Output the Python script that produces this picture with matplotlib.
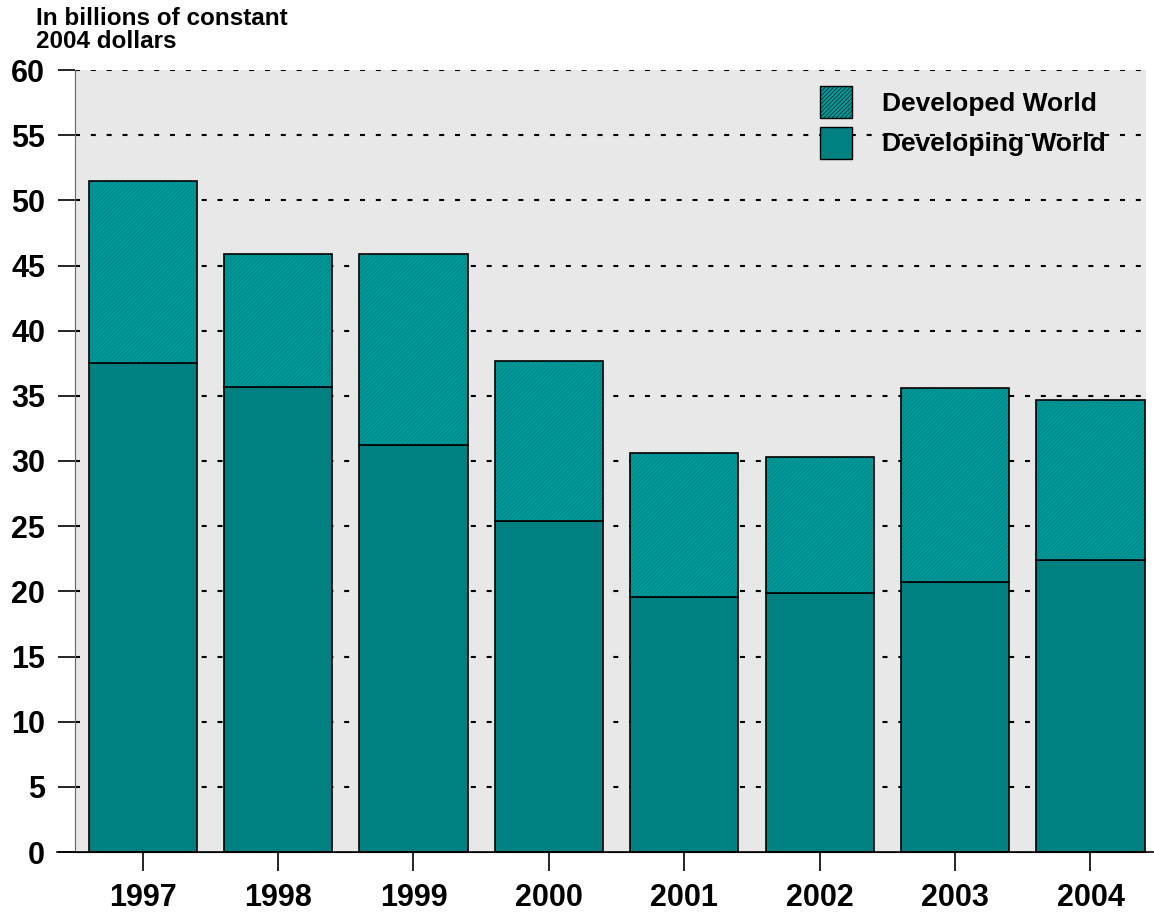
import numpy as np
import matplotlib
matplotlib.use('Agg')
import matplotlib.pyplot as plt
from matplotlib.patches import Patch

# values (billions of constant 2004 dollars)
years = ['1997', '1998', '1999', '2000', '2001', '2002', '2003', '2004']
developing = [37.5, 35.7, 31.2, 25.4, 19.6, 19.85, 20.7, 22.4]
total = [51.5, 45.9, 45.9, 37.7, 30.6, 30.3, 35.6, 34.7]
developed = [t - d for t, d in zip(total, developing)]

plt.rcParams['font.family'] = ['Liberation Sans', 'DejaVu Sans']
plt.rcParams['font.weight'] = 'bold'
plt.rcParams['hatch.linewidth'] = 0.4
plt.rcParams['hatch.color'] = '#007c7c'

c_dev = '#008080'
c_hatch = '#009898'

fig = plt.figure(figsize=(11.54, 9.17), dpi=100)
ax = fig.add_axes([75/1154, (917-852)/917, (1146-75)/1154, (852-70)/917])
ax.set_facecolor('#e8e8e8')

x = np.arange(len(years))
w = 0.8

# dotted grid behind bars
for yv in range(5, 61, 5):
    ax.axhline(yv, color='black', lw=1.5, ls=(0, (2.4, 5.2)), zorder=1)

ax.bar(x, developing, width=w, color=c_dev, edgecolor='black', lw=1.2, zorder=2)
ax.bar(x, developed, bottom=developing, width=w, color=c_hatch,
       edgecolor='#007c7c', hatch='////////', lw=0, zorder=2)
ax.bar(x, developed, bottom=developing, width=w, fill=False,
       edgecolor='black', lw=1.2, zorder=3)

ax.set_xlim(-0.5, 7.41)
ax.set_ylim(0, 60)
ax.set_yticks(range(0, 61, 5))
ax.set_xticks(x)
ax.set_xticklabels(years)

for s in ['top', 'right']:
    ax.spines[s].set_visible(False)
ax.spines['left'].set_color('#666666')
ax.spines['bottom'].set_color('black')
ax.tick_params(axis='y', direction='out', length=12.5, width=1.2,
               labelsize=22, pad=9)
ax.tick_params(axis='x', direction='out', length=13.5, width=1.2,
               labelsize=22, pad=9)
# x axis line running past the plot area
ax.plot([-0.63, 7.55], [0, 0], color='black', lw=1.2, clip_on=False, zorder=4)

fig.text(36/1154, 1 - 30/917, 'In billions of constant\n2004 dollars',
         fontsize=17.5, fontweight='bold', va='center', ha='left', linespacing=1.0)

handles = [Patch(facecolor=c_hatch, edgecolor='black', hatch='////////', lw=1.0),
           Patch(facecolor=c_dev, edgecolor='black', lw=1.0)]
ax.legend(handles, ['Developed World', 'Developing World'], frameon=False,
          loc='upper left', bbox_to_anchor=((820-75)/1071, 1 - (86-70)/782),
          borderpad=0, borderaxespad=0,
          fontsize=19, handlelength=1.2, handleheight=1.5, handletextpad=1.15,
          labelspacing=0.32)

fig.savefig('out.png', dpi=100)
